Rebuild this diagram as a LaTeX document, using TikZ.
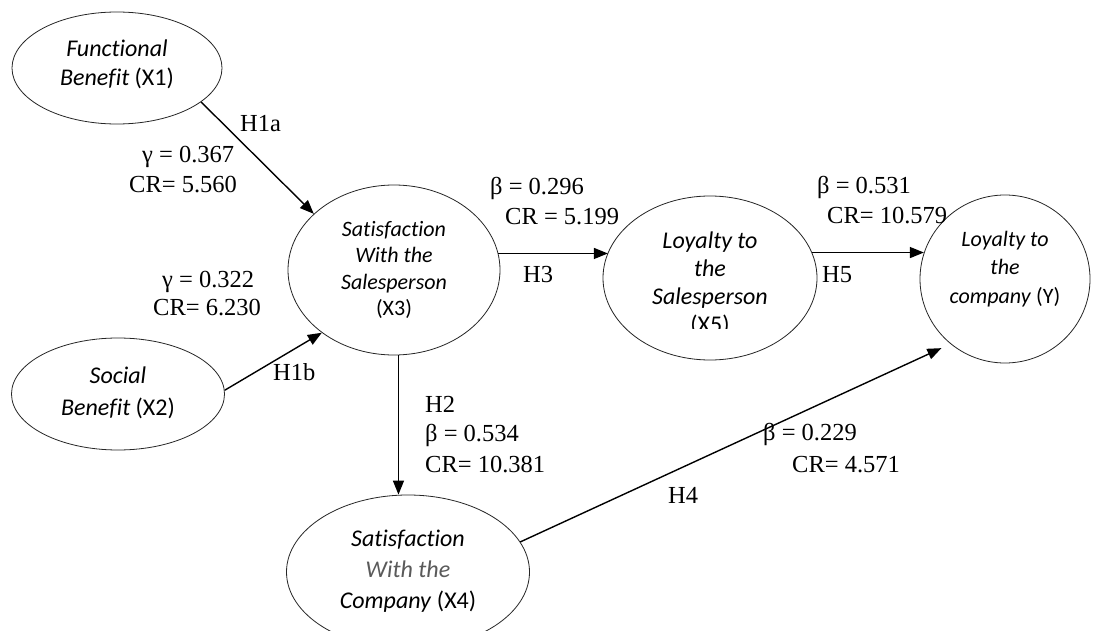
\documentclass[tikz,border=0pt]{standalone}
\usepackage{fontspec}
\setmainfont{Liberation Serif}
\newfontfamily\carl[Ligatures=NoCommon]{Carlito}
\usetikzlibrary{shapes.geometric,arrows.meta}
\definecolor{wgray}{RGB}{90,90,90}
\begin{document}
\begin{tikzpicture}[x=1pt,y=-1pt,
  ell/.style={ellipse,draw=black!85,line width=0.8pt,inner sep=0pt},
  etext/.style={align=center,inner sep=0pt,font=\carl\fontsize{24}{28}\selectfont},
  esmall/.style={align=center,inner sep=0pt,font=\carl\fontsize{22}{26.5}\selectfont},
  lab/.style={font=\fontsize{24.5}{28}\selectfont,inner sep=0pt,anchor=base west},
  arr/.style={line width=1.4pt,-{Triangle[length=14pt,width=11pt]}}]
\clip (0,0) rectangle (1100,631);
\fill[white] (0,0) rectangle (1100,631);

% ellipses
\node[ell,minimum width=210pt,minimum height=112pt] (X1) at (117,68) {};
\node[ell,minimum width=213pt,minimum height=112pt] (X2) at (118,394) {};
\node[ell,minimum width=212pt,minimum height=170pt] (X3) at (394,270) {};
\node[ell,minimum width=214pt,minimum height=164pt] (X5) at (710,278) {};
\node[ell,minimum width=170pt,minimum height=168pt] (Y) at (1005,279) {};
\node[ell,minimum width=243pt,minimum height=154pt] (X4) at (408,572) {};

% ellipse texts
\node[etext,font=\carl\fontsize{24}{29}\selectfont] (X1t) at (117,64) {\textit{Functional}\\\textit{Benefit} (X1)};
\node[etext,font=\carl\fontsize{24}{32}\selectfont] (X2t) at (118,393) {\textit{Social}\\\textit{Benefit} (X2)};
\node[esmall] (X3t) at (394,270) {\textit{Satisfaction}\\\textit{With the}\\\textit{Salesperson}\\(X3)};
\begin{scope}
\clip (600,180) rectangle (820,328);
\node[etext] (X5t) at (710,284) {\textit{Loyalty to}\\\textit{the}\\\textit{Salesperson}\\(X5)};
\end{scope}
\node[esmall,font=\carl\fontsize{22}{28.5}\selectfont] (Yt) at (1005,269) {\textit{Loyalty to}\\\textit{the}\\\textit{company} (Y)};
\node[etext,font=\carl\fontsize{24}{31}\selectfont] (X4t) at (408,571) {\textit{Satisfaction}\\{\color{wgray}\textit{With the}}\\\textit{Company} (X4)};

% connectors
\draw[arr] (X1.-22) -- (X3.145);
\draw[arr] (X2.2) -- (X3.221);
\draw[arr] (X3.9) -- (X3.9 -| X5.166);
\draw[arr] (X5.14) -- (X5.14 -| Y.162);
\draw[arr] (X3.273) -- (X3.273 |- X4.north);
\draw[arr,shorten >=10pt] (X4.15) -- (Y.230);

% labels
\node[lab] (h1a) at (240,132) {H1a};
\node[lab] (g1) at (142,163) {γ = 0.367};
\node[lab] (c1) at (129,193) {CR= 5.560};
\node[lab] (g2) at (162,287) {γ = 0.322};
\node[lab] (c2) at (153,315) {CR= 6.230};
\node[lab] (h1b) at (273,380) {H1b};
\node[lab] (b3) at (490,195) {β = 0.296};
\node[lab] (c3) at (505,225) {CR = 5.199};
\node[lab] (h3) at (523,282) {H3};
\node[lab] (b5) at (817,194) {β = 0.531};
\node[lab] (c5) at (827,224) {CR= 10.579};
\node[lab] (h5) at (822,282) {H5};
\node[lab] (h2) at (425,412) {H2};
\node[lab] (b2) at (425,441) {β = 0.534};
\node[lab] (c2b) at (425,472) {CR= 10.381};
\node[lab] (b4) at (763,440) {β = 0.229};
\node[lab] (c4) at (792,472) {CR= 4.571};
\node[lab] (h4) at (668,503) {H4};
\end{tikzpicture}
\end{document}
